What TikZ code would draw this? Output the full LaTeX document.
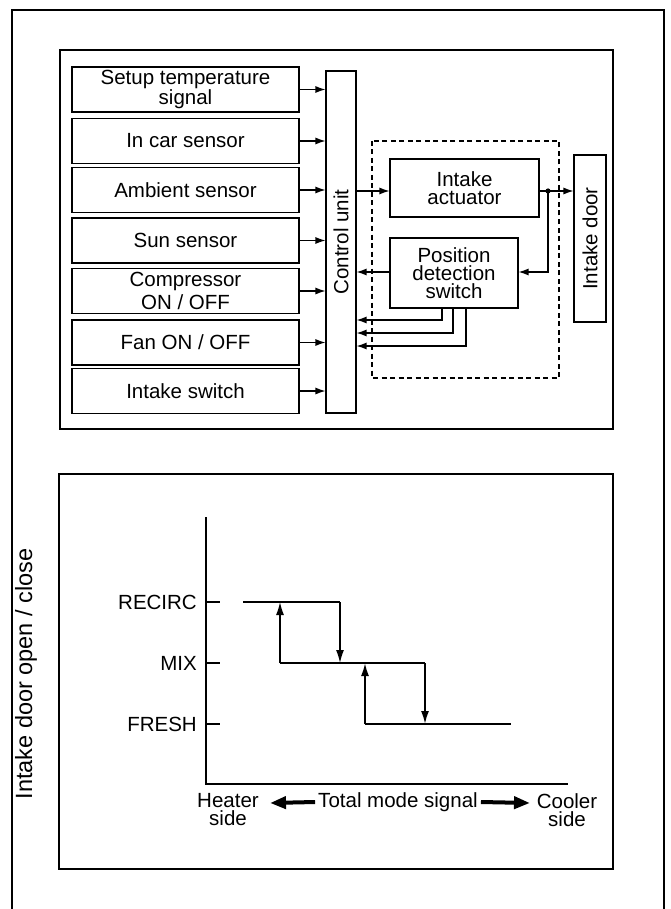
\documentclass[tikz,border=0pt]{standalone}
\usepackage{fontspec}
\setmainfont{Liberation Sans}
\usetikzlibrary{arrows.meta}
\begin{document}
\begin{tikzpicture}[x=1pt,y=-1pt,
  box/.style={draw,line width=1.1pt,inner sep=0pt,align=center,font=\fontsize{20.5}{18}\selectfont},
  lbl/.style={inner sep=0pt,align=center,font=\fontsize{20.5}{18}\selectfont},
  conn/.style={line width=1.2pt,-{Latex[length=10pt,width=7pt]}},
  chartarr/.style={-{Latex[length=13pt,width=8pt]}},
  frame/.style={line width=1.3pt},
  level/.style={line width=2.4pt},
  fat/.style={line width=4pt,-{Triangle[length=16pt,width=12pt]}}]
\useasboundingbox (0,0) rectangle (671,909);
% frames
\draw[frame] (12,909) -- (12,10) -- (664,10) -- (664,909);
\draw[frame] (60,50) rectangle (613,429);
\draw[frame] (59,474) rectangle (613,869);
% left input boxes
\node[box,minimum width=227,minimum height=45] (b1) at (185.5,89.5) {Setup temperature\\signal};
\node[box,minimum width=227,minimum height=45] (b2) at (185.5,141) {In car sensor};
\node[box,minimum width=227,minimum height=45] (b3) at (185.5,190) {Ambient sensor};
\node[box,minimum width=227,minimum height=45] (b4) at (185.5,240.5) {Sun sensor};
\node[box,minimum width=227,minimum height=45,font=\fontsize{20.5}{23}\selectfont] (b5) at (185.5,291) {Compressor\\ON / OFF};
\node[box,minimum width=227,minimum height=45] (b6) at (185.5,342.5) {Fan ON / OFF};
\node[box,minimum width=227,minimum height=45] (b7) at (185.5,391) {Intake switch};
% control unit
\node[box,minimum width=30,minimum height=342] (cu) at (341,242) {};
\node[lbl,rotate=90] (cut) at (cu.center) {Control unit};
\foreach \b in {b1,b2,b3,b4,b5,b6,b7}
  \draw[conn] (\b.east) -- (\b.east -| cu.west);
% dashed actuator group
\draw[line width=1.1pt,dash pattern=on 5pt off 3.5pt] (372,141) rectangle (559,378);
\node[box,minimum width=149,minimum height=58] (ia) at (464.5,188) {Intake\\actuator};
\node[box,minimum width=128,minimum height=70] (ps) at (454,273) {Position\\detection\\switch};
\node[box,minimum width=32,minimum height=167] (door) at (590,238.5) {};
\node[lbl,rotate=90] (doort) at (door.center) {Intake door};
\coordinate (ya) at (0,191);
\coordinate (dot) at (548,191);
\coordinate (yp) at (0,272);
\draw[conn] (cu.east |- ya) -- (ia.west |- ya);
\draw[conn] (ia.east |- ya) -- (door.west |- ya);
\fill (dot) circle (2.6pt);
\draw[conn] (dot) -- (dot |- yp) -- (ps.east |- yp);
\draw[conn] (ps.west |- yp) -- (cu.east |- yp);
\coordinate (s1) at (442,320);
\coordinate (s2) at (453,333);
\coordinate (s3) at (466,346);
\foreach \s in {s1,s2,s3}
  \draw[conn] (\s |- ps.south) -- (\s) -- (\s -| cu.east);
% chart
\coordinate (orig) at (206,784);
\draw[line width=1.4pt] (206,517) -- (orig) -- (568,784);
\node[lbl,anchor=east] (recirc) at (197,602) {RECIRC};
\node[lbl,anchor=east] (mix) at (197,663) {MIX};
\node[lbl,anchor=east] (fresh) at (197,724) {FRESH};
\draw[line width=1.1pt] (206,602) -- (220,602);
\draw[line width=1.1pt] (206,663) -- (220,663);
\draw[line width=1.1pt] (206,724) -- (220,724);
\draw[level] (243,602) -- (340,602);
\draw[level] (280,663) -- (425,663);
\draw[level] (365,724) -- (511,724);
\draw[chartarr,line width=1.3pt] (340,602) -- (340,663);
\draw[chartarr,line width=1.3pt] (280,663) -- (280,602);
\draw[chartarr,line width=1.8pt] (425,663) -- (425,724);
\draw[chartarr,line width=1.8pt] (365,724) -- (365,663);
\node[lbl,rotate=90,font=\fontsize{23.5}{20}\selectfont] (ylab) at (26,674) {Intake door open / close};
\node[lbl] (heater) at (228,810) {Heater\\side};
\node[lbl] (tms) at (398,802) {Total mode signal};
\node[lbl] (cooler) at (567,810) {Cooler\\side};
\draw[fat] (tms.west) ++(-3,0) coordinate (tl) -- (270,803);
\draw[fat] (tms.east) ++(3,0) coordinate (tr) -- (530,803);
\end{tikzpicture}
\end{document}
